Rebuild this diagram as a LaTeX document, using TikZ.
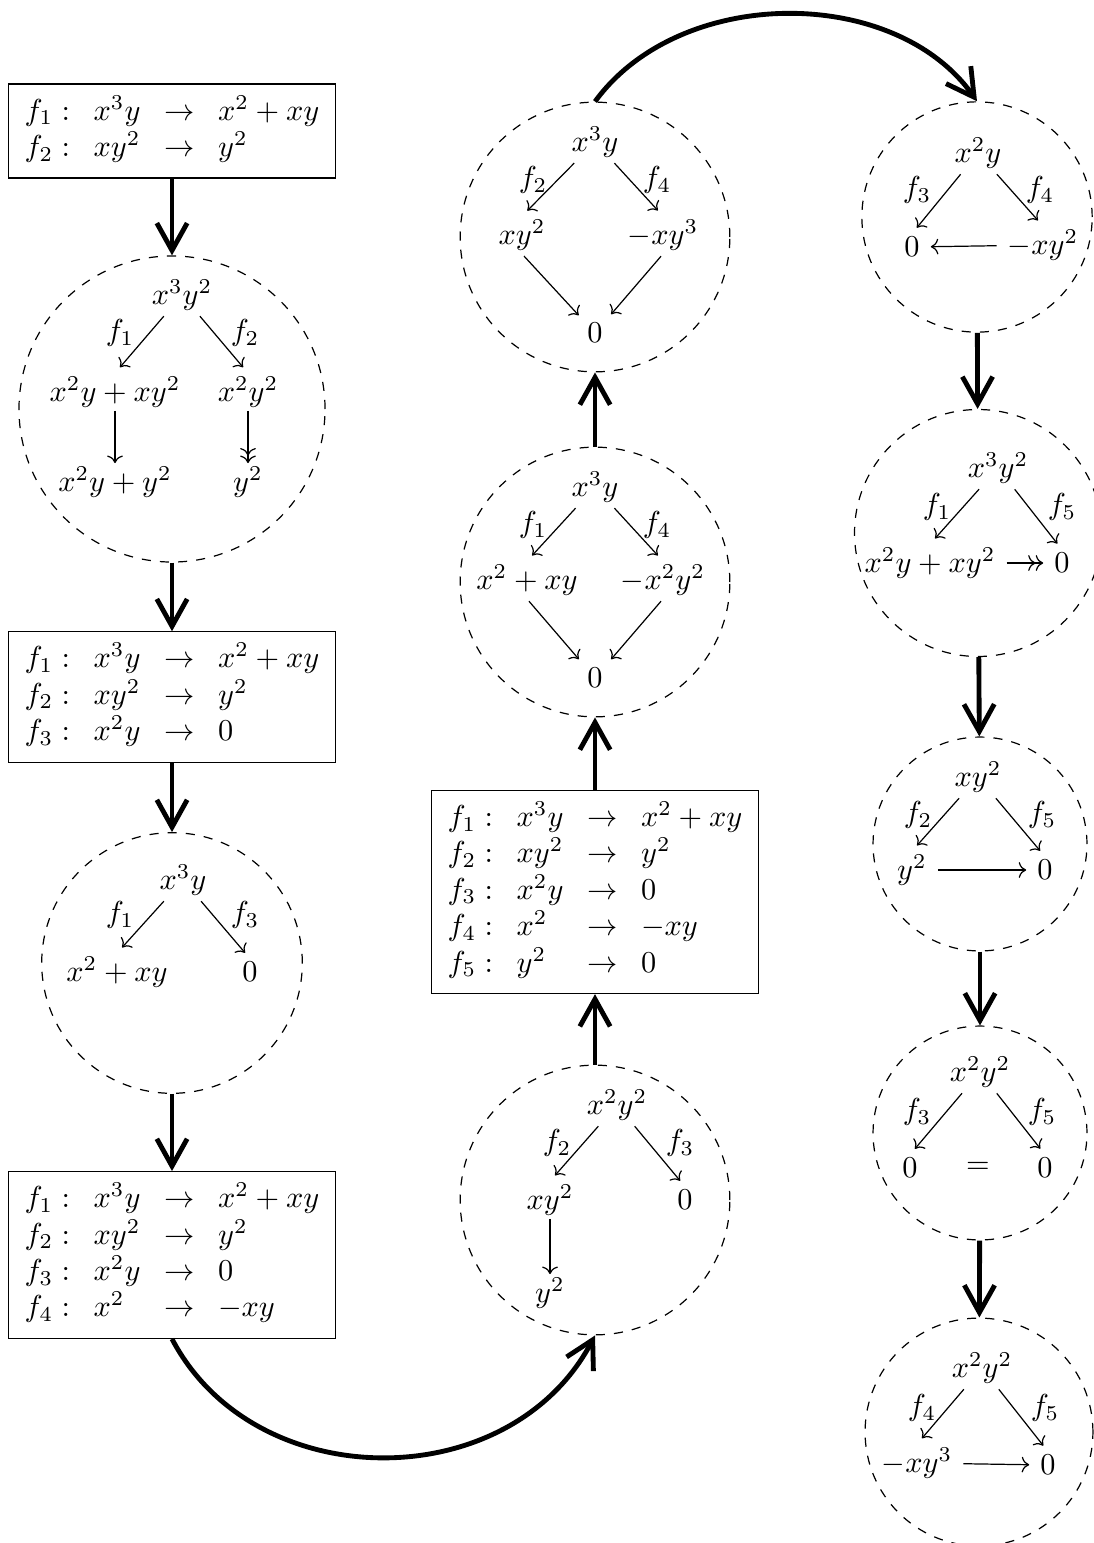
\documentclass[tikz,border=0pt]{standalone}
\usepackage{amsmath,amssymb}
\usepackage{tikz}
\usetikzlibrary{arrows.meta}

\tikzset{
  rulebox/.style={draw, rectangle, inner xsep=1.5pt, inner ysep=3.5pt},
  critpair/.style={draw, dashed, circle, inner sep=0pt},
  term/.style={inner sep=1pt},
  bigarrow/.style={line width=1.6pt, -{Straight Barb[length=9pt,width=10pt]}},
  rewr/.style={->},
  rewrd/.style={->, shorten <=1pt, shorten >=2.5pt},
  rewrr/.style={->>},
  rewrh/.style={shorten <=2.5pt, shorten >=2.5pt}
}
\setlength{\arraycolsep}{3.9pt}

\begin{document}
\begin{tikzpicture}[x=0.33pt,y=0.33pt,yscale=-1]
\useasboundingbox (0,0) rectangle (1094,1543);

        %Rule sets
        \node[rulebox] (boxA) at (172,131) {$\begin{array}{llll}
          f_1: & x^3y & \to & x^2+xy\\
          f_2: & xy^2 & \to & y^2
        \end{array}$};
        \node[rulebox] (boxB) at (172,697) {$\begin{array}{llll}
          f_1: & x^3y & \to & x^2+xy\\
          f_2: & xy^2 & \to & y^2\\
          f_3: & x^2y & \to & 0
        \end{array}$};
        \node[rulebox] (boxC) at (172,1255) {$\begin{array}{llll}
          f_1: & x^3y & \to & x^2+xy\\
          f_2: & xy^2 & \to & y^2\\
          f_3: & x^2y & \to & 0\\
          f_4: & x^2 & \to & -xy
        \end{array}$};
        \node[rulebox] (boxD) at (595,892) {$\begin{array}{llll}
          f_1: & x^3y & \to & x^2+xy\\
          f_2: & xy^2 & \to & y^2\\
          f_3: & x^2y & \to & 0\\
          f_4: & x^2 & \to & -xy\\
          f_5: & y^2 & \to & 0
        \end{array}$};

        %Dashed circles
        \node[critpair, minimum size=101pt] (c1) at (172,409) {};
        \node[critpair, minimum size=86pt] (c2) at (172,963) {};
        \node[critpair, minimum size=89pt] (c3) at (595,1200) {};
        \node[critpair, minimum size=89pt] (c4) at (595,582) {};
        \node[critpair, minimum size=89pt] (c5) at (595,237) {};
        \node[critpair, minimum size=76pt] (c6) at (977,217) {};
        \node[critpair, minimum size=81.5pt] (c7) at (978,533) {};
        \node[critpair, minimum size=70.6pt] (c8) at (980,844) {};
        \node[critpair, minimum size=70.6pt] (c9) at (980,1133) {};
        \node[critpair, minimum size=75.2pt] (c10) at (979,1432) {};

        %Circle 1
        \node[term] (t1) at (182,295) {$x^3y^2$};
        \node[term] (l1) at (115,392) {$x^2y+xy^2$};
        \node[term] (r1) at (248,392) {$x^2y^2$};
        \node[term] (ll1) at (115,482) {$x^2y+y^2$};
        \node[term] (rr1) at (248,482) {$y^2$};
        \node (c1f1) at (120,333) {$f_1$};
        \node (c1f2) at (245,333) {$f_2$};
        \draw[rewrd] (t1) -- (l1.north);
        \draw[rewrd] (t1) -- (r1.north);
        \draw[rewr] (l1) -- (ll1);
        \draw[rewrr] (r1) -- (rr1);

        %Circle 2
        \node[term] (t2) at (183,880) {$x^3y$};
        \node[term] (l2) at (117,972) {$x^2+xy$};
        \node[term] (r2) at (250,972) {$0$};
        \node (c2f1) at (120,915) {$f_1$};
        \node (c2f3) at (245,915) {$f_3$};
        \draw[rewrd] (t2) -- (l2.north);
        \draw[rewrd] (t2) -- (r2.north);

        %Circle 3
        \node[term] (t3) at (617,1105) {$x^2y^2$};
        \node[term] (l3) at (550,1200) {$xy^2$};
        \node[term] (r3) at (685,1200) {$0$};
        \node[term] (b3) at (550,1293) {$y^2$};
        \node (c3f2) at (557,1143) {$f_2$};
        \node (c3f3) at (680,1143) {$f_3$};
        \draw[rewrd] (t3) -- (l3.north);
        \draw[rewrd] (t3) -- (r3.north);
        \draw[rewr] (l3) -- (b3);

        %Circle 4
        \node[term] (t4) at (595,487) {$x^3y$};
        \node[term] (l4) at (527,580) {$x^2+xy$};
        \node[term] (r4) at (663,580) {$-x^2y^2$};
        \node[term] (b4) at (595,678) {$0$};
        \node (c4f1) at (533,525) {$f_1$};
        \node (c4f4) at (657,525) {$f_4$};
        \draw[rewrd] (t4) -- (l4.north);
        \draw[rewrd] (t4) -- (r4.north);
        \draw[rewrd] (l4.south) -- (b4);
        \draw[rewrd] (r4.south) -- (b4);

        %Circle 5
        \node[term] (t5) at (595,142) {$x^3y$};
        \node[term] (l5) at (522,235) {$xy^2$};
        \node[term] (r5) at (663,235) {$-xy^3$};
        \node[term] (b5) at (595,333) {$0$};
        \node (c5f2) at (533,180) {$f_2$};
        \node (c5f4) at (657,180) {$f_4$};
        \draw[rewrd] (t5) -- (l5.north);
        \draw[rewrd] (t5) -- (r5.north);
        \draw[rewrd] (l5.south) -- (b5);
        \draw[rewrd] (r5.south) -- (b5);

        %Circle 6
        \node[term] (t6) at (978,153) {$x^2y$};
        \node[term] (l6) at (912,247) {$0$};
        \node[term] (r6) at (1043,245) {$-xy^2$};
        \node (c6f3) at (917,190) {$f_3$};
        \node (c6f4) at (1040,190) {$f_4$};
        \draw[rewrd] (t6) -- (l6.north);
        \draw[rewrd] (t6) -- (r6.north);
        \draw[rewr, rewrh] (r6) -- (l6);

        %Circle 7
        \node[term] (t7) at (998,468) {$x^3y^2$};
        \node[term] (l7) at (930,563) {$x^2y+xy^2$};
        \node[term] (r7) at (1062,563) {$0$};
        \node (c7f1) at (937,507) {$f_1$};
        \node (c7f5) at (1062,507) {$f_5$};
        \draw[rewrd] (t7) -- (l7.north);
        \draw[rewrd] (t7) -- (r7.north);
        \draw[rewrr, rewrh] (l7) -- (r7);

        %Circle 8
        \node[term] (t8) at (978,777) {$xy^2$};
        \node[term] (l8) at (912,870) {$y^2$};
        \node[term] (r8) at (1045,870) {$0$};
        \node (c8f2) at (918,815) {$f_2$};
        \node (c8f5) at (1042,815) {$f_5$};
        \draw[rewrd] (t8) -- (l8.north);
        \draw[rewrd] (t8) -- (r8.north);
        \draw[rewr, rewrh] (l8) -- (r8);

        %Circle 9
        \node[term] (t9) at (980,1072) {$x^2y^2$};
        \node[term] (l9) at (910,1168) {$0$};
        \node[term] (m9) at (978,1168) {$=$};
        \node[term] (r9) at (1045,1168) {$0$};
        \node (c9f3) at (917,1112) {$f_3$};
        \node (c9f5) at (1042,1112) {$f_5$};
        \draw[rewrd] (t9) -- (l9.north);
        \draw[rewrd] (t9) -- (r9.north);

        %Circle 10
        \node[term] (t10) at (982,1368) {$x^2y^2$};
        \node[term] (l10) at (917,1463) {$-xy^3$};
        \node[term] (r10) at (1048,1465) {$0$};
        \node (c10f4) at (922,1408) {$f_4$};
        \node (c10f5) at (1045,1408) {$f_5$};
        \draw[rewrd] (t10) -- (l10.north);
        \draw[rewrd] (t10) -- (r10.north);
        \draw[rewr, rewrh] (l10) -- (r10);

        %Completion steps
        \draw[bigarrow] (boxA) -- (c1);
        \draw[bigarrow] (c1) -- (boxB);
        \draw[bigarrow] (boxB) -- (c2);
        \draw[bigarrow] (c2) -- (boxC);
        \draw[bigarrow] (boxC.south) .. controls (255,1497) and (510,1497) .. (c3.south);
        \draw[bigarrow] (c3) -- (boxD);
        \draw[bigarrow] (boxD) -- (c4);
        \draw[bigarrow] (c4) -- (c5);
        \draw[bigarrow] (c5.north) .. controls (680,-15) and (895,-15) .. (c6.north);
        \draw[bigarrow] (c6) -- (c7);
        \draw[bigarrow] (c7) -- (c8);
        \draw[bigarrow] (c8) -- (c9);
        \draw[bigarrow] (c9) -- (c10);
\end{tikzpicture}
\end{document}
